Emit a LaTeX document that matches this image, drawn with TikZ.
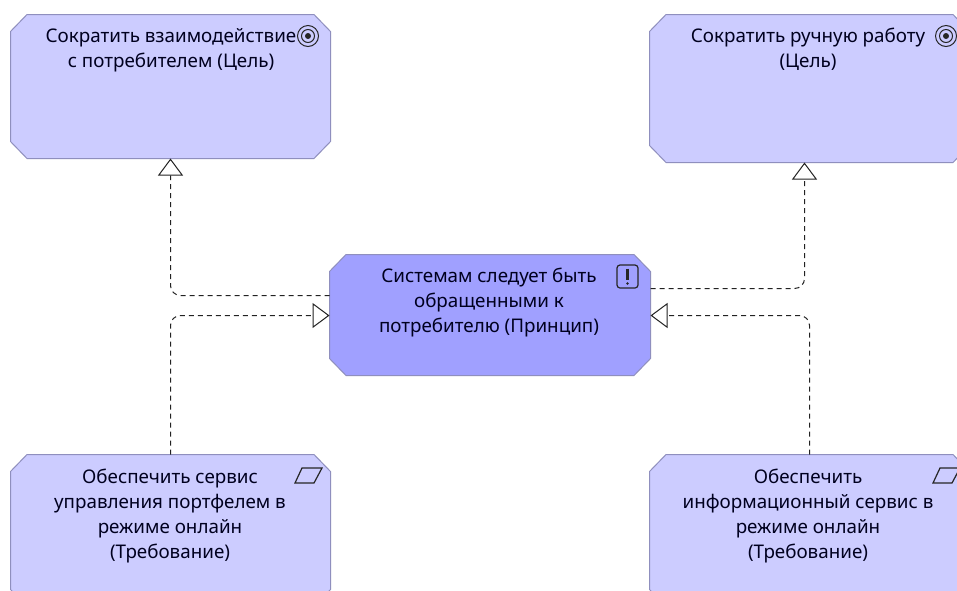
\documentclass[tikz,border=0pt]{standalone}
\usepackage{fontspec}
\setmainfont{Noto Sans}
\usetikzlibrary{arrows.meta,calc}
\definecolor{lightviolet}{HTML}{CCCCFF}
\definecolor{midviolet}{HTML}{A0A0FF}
\definecolor{edgeviolet}{HTML}{8F8FBE}
\definecolor{wire}{HTML}{222222}
\tikzset{
  x=1pt,y=-1pt,
  elementbox/.style={rectangle,inner sep=0pt,outer sep=0pt,minimum width=320pt},
  edgeline/.style={draw=edgeviolet,line width=1pt},
  caption/.style={align=center,font=\fontsize{18.8}{25}\selectfont,text=black!88!blue,inner sep=0pt,anchor=north},
  realization/.style={draw=wire,line width=1pt,dash pattern=on 5pt off 4pt,rounded corners=10pt,
    -{Triangle[open,length=17pt,width=25pt,fill=white,line width=1pt]}},
  iconline/.style={draw=black!85,line width=1pt},
}
\newcommand{\chamferbox}[2]{%
  \path[edgeline,fill=#2]
    ($(#1.north west)+(16.5,0)$) -- ($(#1.north east)+(-16.5,0)$) -- ($(#1.north east)+(0,17)$)
    -- ($(#1.south east)+(0,-17)$) -- ($(#1.south east)+(-16.5,0)$) -- ($(#1.south west)+(16.5,0)$)
    -- ($(#1.south west)+(0,-17)$) -- ($(#1.north west)+(0,17)$) -- cycle;
}
\begin{document}
\begin{tikzpicture}
\useasboundingbox (0,0) rectangle (957,590);
\clip (0,0) rectangle (957,590);
\fill[white] (0,0) rectangle (957,590);

\node[elementbox,minimum height=144pt] (goalA) at (170.5,86.5) {};
\node[elementbox,minimum height=148pt] (goalB) at (809.5,88.5) {};
\node[elementbox,minimum height=121pt,minimum width=321pt] (prin) at (490,315) {};
\node[elementbox,minimum height=152pt] (reqA) at (170.5,530.5) {};
\node[elementbox,minimum height=152pt] (reqB) at (809.5,530.5) {};
\chamferbox{goalA}{lightviolet}
\chamferbox{goalB}{lightviolet}
\chamferbox{prin}{midviolet}
\chamferbox{reqA}{lightviolet}
\chamferbox{reqB}{lightviolet}

\node[caption] (tA) at (171,28) {Сократить взаимодействие\\с потребителем (Цель)};
\node[caption] (tB) at (808,28) {Сократить ручную работу\\(Цель)};
\node[caption] (tP) at (489,268) {Системам следует быть\\обращенными к\\потребителю (Принцип)};
\node[caption] (tC) at (170,469) {Обеспечить сервис\\управления портфелем в\\режиме онлайн\\(Требование)};
\node[caption] (tD) at (808,469) {Обеспечить\\информационный сервис в\\режиме онлайн\\(Требование)};

\draw[realization] ([yshift=19.5pt]prin.west) -| (goalA.south);
\draw[realization] ([yshift=26.5pt]prin.east) -| ([xshift=-5pt]goalB.south);
\draw[realization] (reqA.north) |- ([yshift=-0.5pt]prin.west);
\draw[realization] (reqB.north) |- ([yshift=-0.5pt]prin.east);

% goal icons
\foreach \cx in {308,946}{
  \draw[iconline] (\cx,36) circle (10.5);
  \draw[iconline] (\cx,36) circle (6.5);
  \fill[black!85] (\cx,36) circle (3);
}
% principle icon
\draw[iconline,line width=1.2pt,rounded corners=3pt] (617,265) rectangle (638,288);
\draw[black!85,line width=2.2pt] (627.5,268.5) -- (627.5,280);
\fill[black!85] (627.5,283.5) circle (1.3);
% requirement icons
\foreach \dx in {0,638}{
  \draw[iconline,line width=1.2pt,xshift=\dx pt] (302,468) -- (322,468) -- (314,483) -- (295,483) -- cycle;
}
\end{tikzpicture}
\end{document}
